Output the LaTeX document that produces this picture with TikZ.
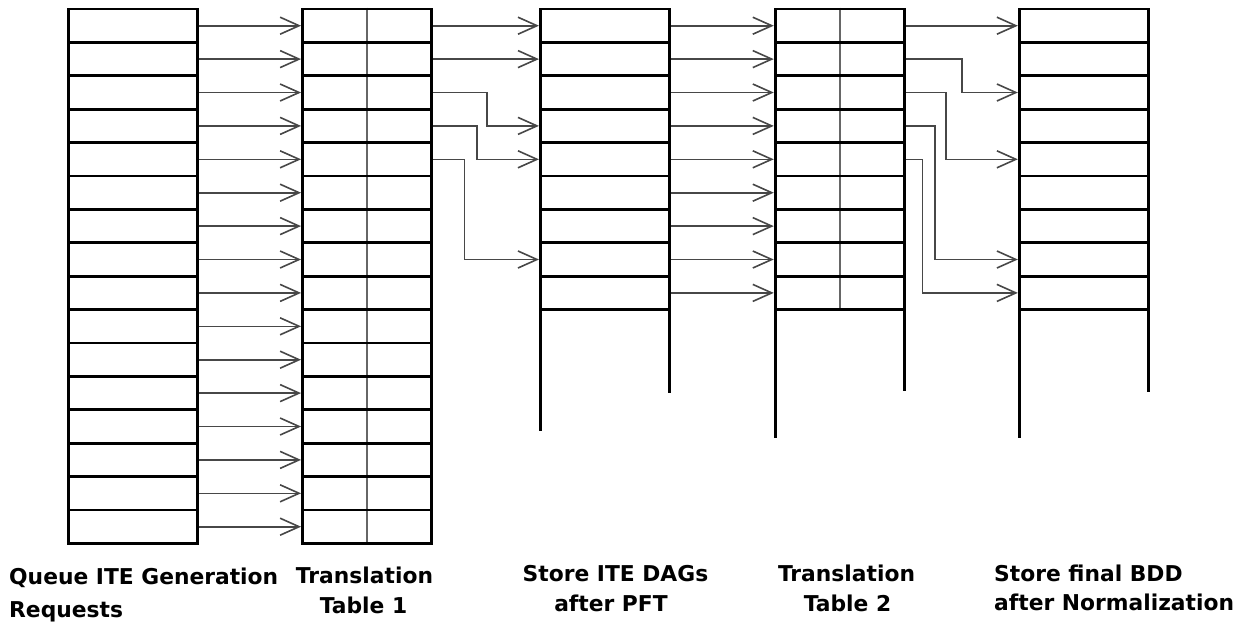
\documentclass[tikz,border=0pt]{standalone}
\usepackage{fontspec}
\newfontfamily\labfont{DejaVu Sans}
\usetikzlibrary{arrows.meta,backgrounds}
\tikzset{
  cell/.style={draw=black, line width=2.9pt, minimum width=129pt, minimum height=33.4pt, inner sep=0pt},
  arr/.style={draw=black!72, line width=1.6pt, -{Straight Barb[length=19pt,width=17pt]}},
  div/.style={draw=black!60, line width=1.7pt},
  ext/.style={draw=black, line width=2.9pt},
  lab/.style={font=\labfont\bfseries\fontsize{21.8}{26}\selectfont, inner sep=0pt},
}
\begin{document}
\begin{tikzpicture}[x=1pt,y=-1pt]
\useasboundingbox (0,0) rectangle (1251,622);
% Queue and Translation Table 1
\foreach \i in {0,...,15} {
  \node[cell] (q\i) at (132.75,{25.7+33.4*\i}) {};
  \node[cell] (a\i) at (367,{25.7+33.4*\i}) {};
}
% Store ITE DAGs, Translation Table 2, Store final BDD
\foreach \i in {0,...,8} {
  \node[cell] (s\i) at (604.9,{25.7+33.4*\i}) {};
  \node[cell] (u\i) at (839.7,{25.7+33.4*\i}) {};
  \node[cell] (f\i) at (1083.8,{25.7+33.4*\i}) {};
}
% dividers of the translation tables
\begin{scope}[on background layer]
  \draw[div] (a0.north) -- (a15.south);
  \draw[div] (u0.north) -- (u8.south);
\end{scope}
% open-ended column sides
\draw[ext] ([xshift=1.45pt]s8.south west) -- ++(0,119.5);
\draw[ext] ([xshift=-1.45pt]s8.south east) -- ++(0,81.5);
\draw[ext] ([xshift=1.45pt]u8.south west) -- ++(0,126.5);
\draw[ext] ([xshift=-1.45pt]u8.south east) -- ++(0,79.5);
\draw[ext] ([xshift=1.45pt]f8.south west) -- ++(0,126.5);
\draw[ext] ([xshift=-1.45pt]f8.south east) -- ++(0,80.5);
% queue -> table 1
\foreach \i in {0,...,15} {
  \draw[arr] (q\i.east) -- (a\i.west);
}
% table 1 -> store ITE DAGs
\coordinate (k1) at (487,0);
\coordinate (k2) at (477,0);
\coordinate (k3) at (464.3,0);
\draw[arr] (a0.east) -- (s0.west);
\draw[arr] (a1.east) -- (s1.west);
\draw[arr] (a2.east) -- (k1 |- a2.east) |- (s3.west);
\draw[arr] (a3.east) -- (k2 |- a3.east) |- (s4.west);
\draw[arr] (a4.east) -- (k3 |- a4.east) |- (s7.west);
% store ITE DAGs -> table 2
\foreach \i in {0,...,8} {
  \draw[arr] (s\i.east) -- (u\i.west);
}
% table 2 -> store final BDD
\coordinate (m1) at (961.7,0);
\coordinate (m2) at (946,0);
\coordinate (m3) at (935,0);
\coordinate (m4) at (922.3,0);
\draw[arr] (u0.east) -- (f0.west);
\draw[arr] (u1.east) -- (m1 |- u1.east) |- (f2.west);
\draw[arr] (u2.east) -- (m2 |- u2.east) |- (f4.west);
\draw[arr] (u3.east) -- (m3 |- u3.east) |- (f7.west);
\draw[arr] (u4.east) -- (m4 |- u4.east) |- (f8.west);
% labels
\node[lab, anchor=base west] (l1a) at (9,584.5) {Queue ITE Generation};
\node[lab, anchor=base west] (l1b) at (9,617.5) {Requests};
\node[lab, anchor=base] (l2a) at (364.5,583.3) {Translation};
\node[lab, anchor=base] (l2b) at (363.5,613.3) {Table 1};
\node[lab, anchor=base] (l3a) at (615.5,581.7) {Store ITE DAGs};
\node[lab, anchor=base] (l3b) at (611,611.7) {after PFT};
\node[lab, anchor=base] (l4a) at (846.5,581.7) {Translation};
\node[lab, anchor=base] (l4b) at (847.5,611.7) {Table 2};
\node[lab, anchor=base west] (l5a) at (994,581.7) {Store final BDD};
\node[lab, anchor=base west] (l5b) at (994,610.5) {after Normalization};
\end{tikzpicture}
\end{document}
